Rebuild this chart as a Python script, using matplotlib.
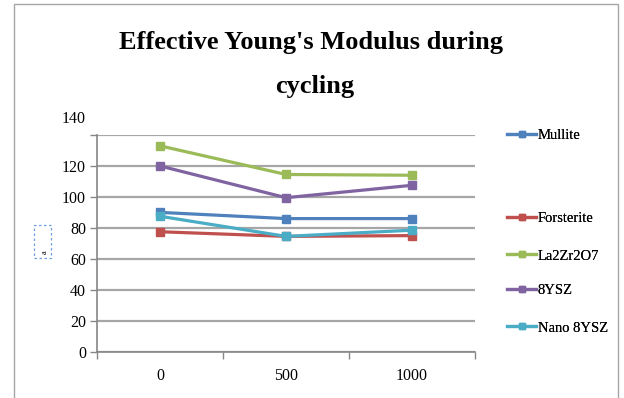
import numpy as np
import matplotlib
matplotlib.use('Agg')
import matplotlib.pyplot as plt
from matplotlib.lines import Line2D
from matplotlib.patches import Rectangle
from matplotlib.transforms import ScaledTranslation

plt.rcParams['font.family'] = ['Liberation Serif', 'DejaVu Serif']

# data
cycles = ['0', '500', '1000']
mullite = [90, 86, 86]
forsterite = [77.5, 74.5, 75]
la2zr2o7 = [133, 114.5, 114]
ysz8 = [120, 99.5, 107.5]
nano_ysz8 = [87.5, 74.5, 78.5]

names = ['Mullite', 'Forsterite', 'La2Zr2O7', '8YSZ', 'Nano 8YSZ']
series = [mullite, forsterite, la2zr2o7, ysz8, nano_ysz8]
colors = ['#4F81BD', '#C0504D', '#9BBB59', '#8064A2', '#4BACC6']
legend_y = [0.660, 0.452, 0.357, 0.271, 0.176]  # figure coords of each legend entry

fig = plt.figure(figsize=(6.24, 3.98), dpi=100)

# chart border
fig.patches.append(Rectangle((14/624, -0.05), 604/624, 1.05 - 4/398,
                             transform=fig.transFigure, fill=False,
                             edgecolor='#A6A6A6', linewidth=1.0))

ax = fig.add_axes([97/624, 1 - 351.7/398, 378/624, (351.7 - 135)/398])

x = np.arange(len(cycles))
for vals, name, c in zip(series, names, colors):
    ax.plot(x, vals, color=c, linewidth=2.3, marker='s', markersize=6,
            label=name, solid_capstyle='round')

ax.set_xlim(-0.5, len(cycles) - 0.5)
ax.set_ylim(0, 140)
ax.set_yticks(np.arange(0, 141, 20))
ax.set_xticks(x)
ax.set_xticklabels(cycles)
ax.set_xticks(np.arange(-0.5, len(cycles), 1), minor=True)
ax.tick_params(axis='x', which='major', length=0, pad=12, labelsize=11.5)
ax.tick_params(axis='x', which='minor', length=5, color='#868686', width=1)
ax.tick_params(axis='y', length=5, color='#868686', width=1, labelsize=11.5, pad=3)
ax.grid(axis='y', color='#A6A6A6', linewidth=1.6)
ax.set_axisbelow(True)
for s in ['top', 'right']:
    ax.spines[s].set_visible(False)
for s in ['left', 'bottom']:
    ax.spines[s].set_color('#868686')
    ax.spines[s].set_linewidth(1.2)

# the top label sits higher in the reference
labs = ax.get_yticklabels()
labs[-1].set_transform(labs[-1].get_transform() +
                       ScaledTranslation(0, 18/100, fig.dpi_scale_trans))

fig.text(311/624, 1 - 42/398, "Effective Young's Modulus during",
         ha='center', va='center', fontsize=19, fontweight='bold')
fig.text(315/624, 1 - 86/398, 'cycling',
         ha='center', va='center', fontsize=19, fontweight='bold')

# legend entries, drawn one by one to keep the uneven spacing
for name, c, ly in zip(names, colors, legend_y):
    h = Line2D([], [], color=c, linewidth=2.3, marker='s', markersize=5)
    lg = fig.legend(handles=[h], labels=[name], loc='center left',
                    bbox_to_anchor=(500/624, ly), frameon=False,
                    handlelength=2.0, handletextpad=0.1, borderpad=0,
                    fontsize=10.5)
    fig.add_artist(lg)

# leftover axis-title placeholder box
fig.patches.append(Rectangle((34/624, 1 - 258/398), 17/624, 33/398,
                             transform=fig.transFigure, fill=False,
                             edgecolor='#6F9FE0', linewidth=0.9,
                             linestyle=(0, (2, 2))))
fig.text(45/624, 1 - 252/398, 'a', fontsize=6, rotation=90,
         ha='center', va='center')

fig.savefig('out.png', dpi=100)
